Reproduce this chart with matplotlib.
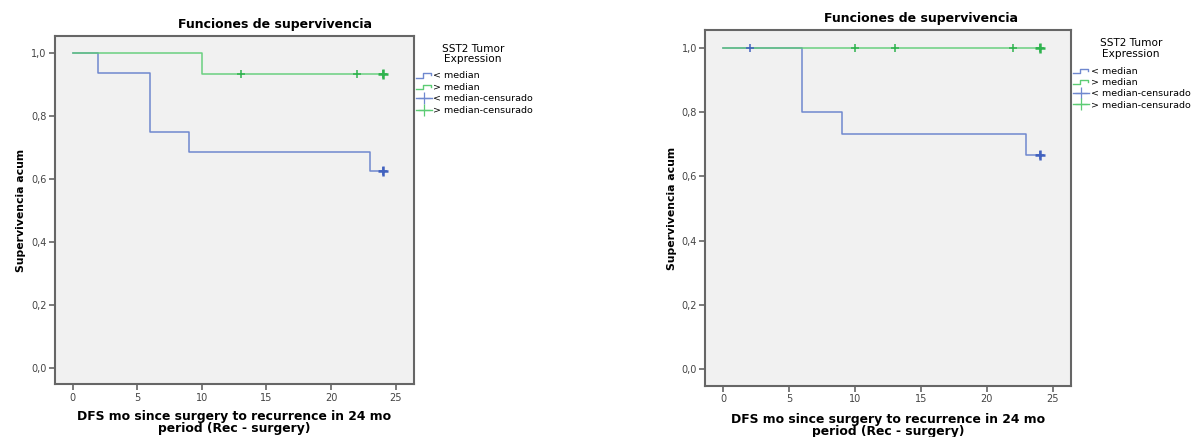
import matplotlib
matplotlib.use("Agg")
import matplotlib.pyplot as plt
from matplotlib.lines import Line2D
from matplotlib.legend_handler import HandlerBase

# Kaplan-Meier curves, DFS in months, SST2 tumor expression split at the median
# left panel
left_lo_t = [0, 2, 6, 9, 23, 24]
left_lo_s = [1.0, 0.9375, 0.75, 0.6875, 0.625, 0.625]
left_lo_cens_t = [24]
left_lo_cens_s = [0.625]

left_hi_t = [0, 10, 24]
left_hi_s = [1.0, 0.9333, 0.9333]
left_hi_cens_t = [13, 22, 24]
left_hi_cens_s = [0.9333, 0.9333, 0.9333]

# right panel
right_lo_t = [0, 6, 9, 23, 24]
right_lo_s = [1.0, 0.8, 0.7333, 0.6667, 0.6667]
right_lo_cens_t = [2, 24]
right_lo_cens_s = [1.0, 0.6667]

right_hi_t = [0, 24]
right_hi_s = [1.0, 1.0]
right_hi_cens_t = [10, 13, 22, 24]
right_hi_cens_s = [1.0, 1.0, 1.0, 1.0]

x_ticks = [0, 5, 10, 15, 20, 25]
y_ticks = [0.0, 0.2, 0.4, 0.6, 0.8, 1.0]
y_tick_labels = ["0,0", "0,2", "0,4", "0,6", "0,8", "1,0"]
legend_labels = ["< median", "> median", "< median-censurado", "> median-censurado"]

BLUE = "#6f88cf"
BLUE_DARK = "#4262bf"
GREEN = "#5ccc74"
GREEN_DARK = "#2fb34e"
FRAME = "#666666"


class StepHandler(HandlerBase):
    # small step glyph used by SPSS for survival lines
    def create_artists(self, legend, orig_handle, xdescent, ydescent,
                       width, height, fontsize, trans):
        lo = -ydescent + 0.1 * height
        hi = -ydescent + 0.75 * height
        xs = [-xdescent, -xdescent + 0.45 * width, -xdescent + 0.45 * width,
              -xdescent + 0.95 * width, -xdescent + 0.95 * width]
        ys = [lo, lo, hi, hi, 0.45 * height - ydescent]
        ln = Line2D(xs, ys, color=orig_handle.get_color(), lw=1.0, transform=trans)
        return [ln]


def km_panel(fig, rect, lo, hi, title_xy, legend_title_xy, legend_xy, xlabel_y, row_gap):
    ax = fig.add_axes(rect)
    ax.set_facecolor("#f1f1f1")
    (lo_t, lo_s, lo_ct, lo_cs), (hi_t, hi_s, hi_ct, hi_cs) = lo, hi

    ax.step(lo_t, lo_s, where="post", color=BLUE, lw=1.1, zorder=2)
    ax.step(hi_t, hi_s, where="post", color=GREEN, lw=1.1, alpha=0.9, zorder=3)
    ax.plot(lo_ct, lo_cs, ls="none", marker="+", ms=6, mew=1.1, color=BLUE_DARK, zorder=4)
    ax.plot(hi_ct, hi_cs, ls="none", marker="+", ms=6, mew=1.1, color=GREEN_DARK, zorder=4)
    # several patients censored at month 24
    ax.plot([lo_ct[-1]], [lo_cs[-1]], ls="none", marker="+", ms=7, mew=1.8, color=BLUE_DARK, zorder=5)
    ax.plot([hi_ct[-1]], [hi_cs[-1]], ls="none", marker="+", ms=7, mew=1.8, color=GREEN_DARK, zorder=5)

    ax.set_xlim(-1.37, 26.4)
    ax.set_ylim(-0.052, 1.055)
    ax.set_xticks(x_ticks)
    ax.set_yticks(y_ticks)
    ax.set_yticklabels(y_tick_labels)
    ax.tick_params(direction="out", length=4, width=1.2, color=FRAME,
                   labelsize=7, labelcolor="#444444", pad=2)
    for sp in ax.spines.values():
        sp.set_color(FRAME)
        sp.set_linewidth(1.5)

    ax.set_ylabel("Supervivencia acum", fontsize=7.8, fontweight="bold", labelpad=3.5)
    cx = rect[0] + rect[2] / 2
    fig.text(cx, xlabel_y, "DFS mo since surgery to recurrence in 24 mo\nperiod (Rec - surgery)",
             ha="center", va="top", fontsize=8.9, fontweight="bold", linespacing=0.95)
    fig.text(title_xy[0], title_xy[1], "Funciones de supervivencia",
             ha="center", va="center", fontsize=9, fontweight="bold")

    # legend title sits a little apart from the entries
    fig.text(legend_title_xy[0], legend_title_xy[1], "SST2 Tumor\nExpression",
             ha="center", va="center", multialignment="center",
             fontsize=7.6, linespacing=1.05)

    handles = [
        Line2D([], [], color=BLUE),
        Line2D([], [], color=GREEN),
        Line2D([], [], color=BLUE, marker="+", ms=8, mew=0.9, lw=1.0),
        Line2D([], [], color=GREEN, marker="+", ms=8, mew=0.9, lw=1.0),
    ]
    fig.legend(handles, legend_labels, loc="upper left", bbox_to_anchor=legend_xy,
               frameon=False, fontsize=6.8, handlelength=1.7, handletextpad=0.15,
               labelspacing=row_gap, borderpad=0, borderaxespad=0,
               handler_map={handles[0]: StepHandler(), handles[1]: StepHandler()})
    return ax


fig = plt.figure(figsize=(11.92, 4.37), dpi=100)

km_panel(fig, [0.0461, 0.1206, 0.3010, 0.7970],
         (left_lo_t, left_lo_s, left_lo_cens_t, left_lo_cens_s),
         (left_hi_t, left_hi_s, left_hi_cens_t, left_hi_cens_s),
         title_xy=(0.231, 0.945), legend_title_xy=(0.397, 0.876),
         legend_xy=(0.349, 0.837), xlabel_y=0.062, row_gap=0.27)

km_panel(fig, [0.5917, 0.1167, 0.3070, 0.8140],
         (right_lo_t, right_lo_s, right_lo_cens_t, right_lo_cens_s),
         (right_hi_t, right_hi_s, right_hi_cens_t, right_hi_cens_s),
         title_xy=(0.773, 0.958), legend_title_xy=(0.9486, 0.889),
         legend_xy=(0.9002, 0.847), xlabel_y=0.056, row_gap=0.24)

fig.savefig("out.png", dpi=100, facecolor="white")
